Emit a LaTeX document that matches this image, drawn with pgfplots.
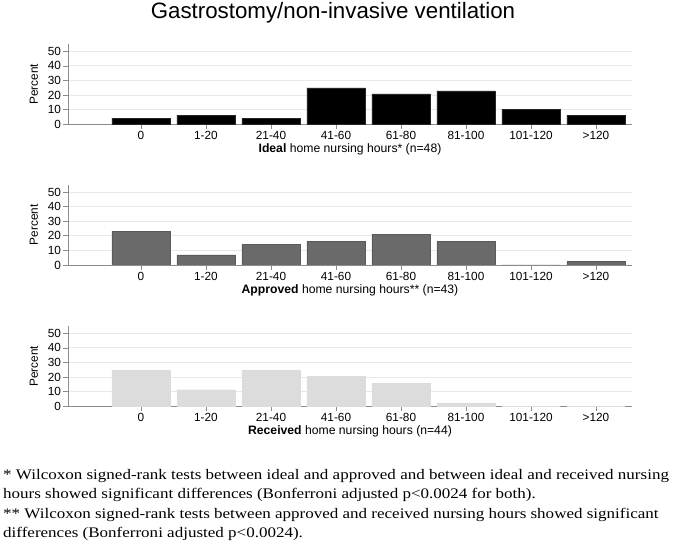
\documentclass[border=0pt]{standalone}
\usepackage{fontspec}
\setmainfont{Liberation Sans}
\newfontfamily\timesfont[FakeStretch=1.165]{Liberation Serif}
\usepackage{pgfplots}
\pgfplotsset{compat=1.18}
\definecolor{axgray}{HTML}{8C8C8C}
\definecolor{gridgray}{HTML}{E8E8E8}
\definecolor{darkbar}{HTML}{6A6A6A}
\definecolor{lightbar}{HTML}{DCDCDC}
\pgfplotsset{
  panel/.style={
    scale only axis,
    width=564pt, height=80.3pt,
    anchor=south west,
    xmin=-1.123, xmax=7.554,
    ymin=0, ymax=55,
    axis x line=bottom, axis y line=left,
    axis line style={-, axgray, line width=0.8pt},
    ytick={0,10,20,30,40,50},
    xtick={0,1,2,3,4,5,6,7},
    xticklabels={0,1-20,21-40,41-60,61-80,81-100,101-120,>120},
    tick align=outside,
    major tick length=5pt,
    tick style={axgray, line width=0.6pt},
    ymajorgrids,
    grid style={gridgray, line width=0.8pt},
    /pgf/number format/assume math mode=true,
    tick label style={font=\fontsize{11.8}{13}\selectfont},
    xticklabel style={anchor=base, yshift=-10.7pt},
    yticklabel style={anchor=east, xshift=1.5pt},
    ylabel={Percent},
    ylabel style={at={(axis description cs:-0.0532,0.5)}, anchor=base, rotate=0, font=\fontsize{11.8}{13}\selectfont},
    xlabel style={at={(axis description cs:0.5,0)}, anchor=base, yshift=-28.5pt, font=\fontsize{12.2}{14}\selectfont},
    ybar, bar width=58pt,
  }
}
\begin{document}
\begin{tikzpicture}
\path[use as bounding box] (0pt,0pt) rectangle (675pt,544pt);
\node[anchor=base, font=\fontsize{22.3}{26}\selectfont] at (333pt,525pt) {Gastrostomy/non-invasive ventilation};

\begin{axis}[panel, at={(68pt,419.7pt)},
  xlabel={\textbf{Ideal} home nursing hours* (n=48)}]
\addplot[fill=black, draw=black!85] coordinates {
(0,4.17) (1,6.25) (2,4.17) (3,25.0) (4,20.83) (5,22.92) (6,10.42) (7,6.25)};
\end{axis}

\begin{axis}[panel, at={(68pt,279pt)},
  xlabel={\textbf{Approved} home nursing hours** (n=43)}]
\addplot[fill=darkbar, draw=darkbar!85!black] coordinates {
(0,23.26) (1,6.98) (2,13.95) (3,16.28) (4,20.93) (5,16.28) (6,0) (7,2.33)};
\end{axis}

\begin{axis}[panel, at={(68pt,137.7pt)},
  xlabel={\textbf{Received} home nursing hours (n=44)}]
\addplot[fill=lightbar, draw=lightbar] coordinates {
(0,25.0) (1,11.36) (2,25.0) (3,20.45) (4,15.91) (5,2.27) (6,0) (7,0)};
\end{axis}

\begin{scope}[font=\timesfont\fontsize{14.6}{17}\selectfont]
\node[anchor=base west, inner sep=0pt] at (3pt,65pt) {* Wilcoxon signed-rank tests between ideal and approved and between ideal and received nursing};
\node[anchor=base west, inner sep=0pt] at (3pt,45.5pt) {hours showed significant differences (Bonferroni adjusted p<0.0024 for both).};
\node[anchor=base west, inner sep=0pt] at (3pt,26pt) {** Wilcoxon signed-rank tests between approved and received nursing hours showed significant};
\node[anchor=base west, inner sep=0pt] at (3pt,6.5pt) {differences (Bonferroni adjusted p<0.0024).};
\end{scope}
\end{tikzpicture}
\end{document}
